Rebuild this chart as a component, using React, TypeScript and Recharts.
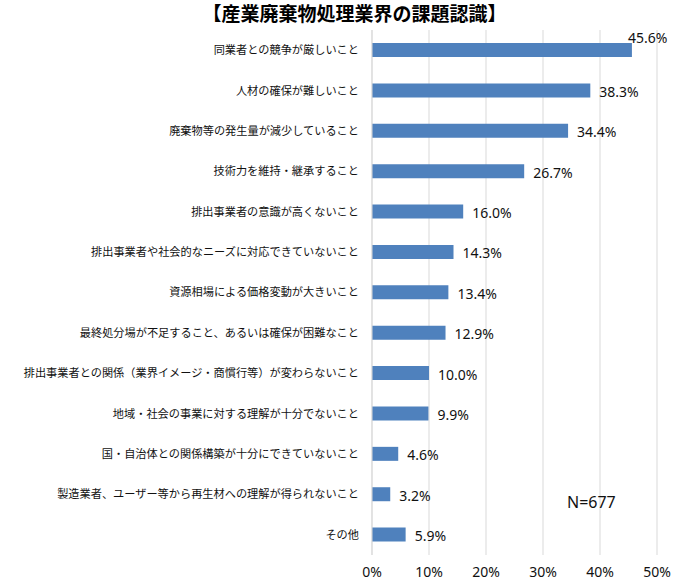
import React from "react";
import { BarChart, Bar, XAxis, YAxis, CartesianGrid } from "recharts";

const categories = [
  "同業者との競争が厳しいこと",
  "人材の確保が難しいこと",
  "廃棄物等の発生量が減少していること",
  "技術力を維持・継承すること",
  "排出事業者の意識が高くないこと",
  "排出事業者や社会的なニーズに対応できていないこと",
  "資源相場による価格変動が大きいこと",
  "最終処分場が不足すること、あるいは確保が困難なこと",
  "排出事業者との関係（業界イメージ・商慣行等）が変わらないこと",
  "地域・社会の事業に対する理解が十分でないこと",
  "国・自治体との関係構築が十分にできていないこと",
  "製造業者、ユーザー等から再生材への理解が得られないこと",
  "その他",
];
const values = [45.6, 38.3, 34.4, 26.7, 16.0, 14.3, 13.4, 12.9, 10.0, 9.9, 4.6, 3.2, 5.9];
const xTicks = [0, 10, 20, 30, 40, 50];
const titleText = "【産業廃棄物処理業界の課題認識】";
const noteText = "N=677";

const data = categories.map((name, i) => ({ name, value: values[i] }));

const W = 693;
const H = 584;

const ValueLabel = (props: any) => {
  const { x, y, width, height, value } = props;
  const end = Number(x) + Number(width);
  const cy = Number(y) + Number(height) / 2;
  const txt = `${Number(value).toFixed(1)}%`;
  const overflow = end + 9 + 46 > 682;
  return (
    <text
      x={overflow ? end - 4 : end + 9}
      y={overflow ? cy - 13 : cy + 1}
      dominantBaseline="central"
      fontFamily="'Noto Sans', sans-serif"
      fontSize={14}
      fill="#111"
    >
      {txt}
    </text>
  );
};

export default function App() {
  return (
    <div style={{ position: "absolute", left: 0, top: 0, width: W, height: H, background: "#fff" }}>
      <div
        style={{
          position: "absolute",
          left: 8,
          top: 3,
          width: W,
          textAlign: "center",
          fontFamily: "'Noto Sans CJK JP', sans-serif",
          fontWeight: 700,
          fontSize: 19,
          lineHeight: "20px",
          color: "#000",
        }}
      >
        {titleText}
      </div>
      <BarChart
        width={W}
        height={H}
        data={data}
        layout="vertical"
        margin={{ top: 30, right: 36, left: 0, bottom: 0 }}
        barCategoryGap={0}
      >
        <CartesianGrid horizontal={false} stroke="#D9D9D9" strokeWidth={1} />
        <XAxis
          type="number"
          domain={[0, 50]}
          ticks={xTicks}
          tickFormatter={(v: number) => `${v}%`}
          axisLine={false}
          tickLine={false}
          tickSize={0}
          tickMargin={12}
          height={29}
          interval={0}
          tick={{ fontFamily: "'Noto Sans', sans-serif", fontSize: 14, fill: "#111" }}
        />
        <YAxis
          type="category"
          dataKey="name"
          width={372}
          axisLine={{ stroke: "#D9D9D9" }}
          tickLine={false}
          tickSize={0}
          tickMargin={13}
          interval={0}
          tick={{ fontFamily: "'Noto Sans CJK JP', sans-serif", fontSize: 11.2, fill: "#111" }}
        />
        <Bar dataKey="value" fill="#4F81BD" barSize={14} isAnimationActive={false} label={<ValueLabel />} />
      </BarChart>
      <div
        style={{
          position: "absolute",
          left: 567,
          top: 493,
          fontFamily: "'Noto Sans', sans-serif",
          fontSize: 16,
          lineHeight: "19px",
          color: "#111",
        }}
      >
        {noteText}
      </div>
    </div>
  );
}
